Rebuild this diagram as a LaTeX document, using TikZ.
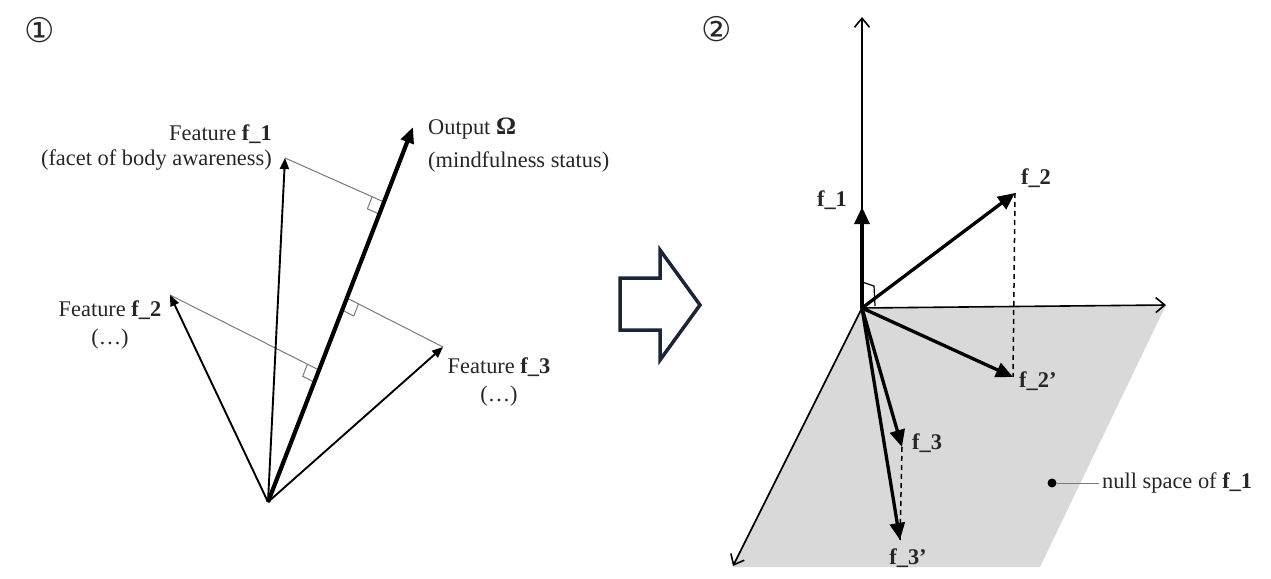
\documentclass[tikz,border=0pt]{standalone}
\usepackage{fontspec}
\setmainfont{Liberation Serif}
\newfontfamily\symfont{DejaVu Sans}
\usetikzlibrary{arrows.meta,calc}
\definecolor{navy}{HTML}{1C2536}
\definecolor{planegray}{HTML}{D9D9D9}
\definecolor{txt}{HTML}{262626}
\definecolor{perpgray}{HTML}{7A7A7A}
\begin{document}
\begin{tikzpicture}[x=1pt,y=-1pt,
  lbl/.style={font=\fontsize{22.4}{25}\selectfont, inner sep=0pt, text=txt},
  circnum/.style={font=\symfont\fontsize{34}{34}\selectfont, inner sep=0pt, text=txt},
  thinvec/.style={line width=1.9pt, -{Triangle[length=11pt,width=9pt]}},
  outvec/.style={line width=4.2pt, -{Triangle[length=16pt,width=13pt]}},
  perp/.style={line width=1pt, draw=perpgray},
  axis/.style={line width=1.6pt, -{Straight Barb[length=9pt,width=15pt]}},
  bigvec/.style={line width=3.3pt, -{Triangle[length=17pt,width=15pt]}},
  proj/.style={line width=1.5pt, dash pattern=on 5pt off 4pt},
]
\useasboundingbox (0,0) rectangle (1271,578);

% ---------- panel 1 ----------
\node[circnum] (n1) at (40,30) {①};

\coordinate (O) at (268,502);
\coordinate (T1) at (285,158);
\coordinate (T2) at (170,295);
\coordinate (T3) at (443,347);
\coordinate (TO) at (413,127);

\coordinate (F1) at ($(O)!0.80!(TO)$);
\coordinate (F2) at ($(O)!0.352!(TO)$);
\coordinate (F3) at ($(O)!0.544!(TO)$);

\draw[perp] (T1) -- (F1);
\draw[perp] (T2) -- (F2);
\draw[perp] (T3) -- (F3);
\foreach \f/\t in {F1/T1,F2/T2,F3/T3}{
  \coordinate (a) at ($(\f)!13pt!(\t)$);
  \coordinate (b) at ($(\f)!13pt!(O)$);
  \draw[perp] (a) -- ($(a)+(b)-(\f)$) -- (b);
}

\draw[thinvec] (O) -- (T1);
\draw[thinvec] (O) -- (T2);
\draw[thinvec] (O) -- (T3);
\draw[outvec] (O) -- (TO);

\node[lbl, anchor=east, align=right] (L1) at (272,148) {Feature \textbf{f\_1}\\(facet of body awareness)};
\node[lbl, anchor=west, align=left] (LO) at (428,145) {Output \textbf{\fontsize{25}{25}\selectfont Ω}\\[8pt](mindfulness status)};
\node[lbl, align=center] (L2) at (110,325) {Feature \textbf{f\_2}\\[3pt](…)};
\node[lbl, align=center] (L3) at (499,382) {Feature \textbf{f\_3}\\[3pt](…)};

% ---------- transition arrow ----------
\draw[line width=3.5pt, draw=navy, fill=white, line join=miter]
  (620,278) -- (660,278) -- (660,250) -- (700,305) -- (660,360) -- (660,330) -- (620,330) -- cycle;

% ---------- panel 2 ----------
\node[circnum] (n2) at (717,29) {②};

\coordinate (R) at (862,308);
\coordinate (Xe) at (1166,305);
\coordinate (Ye) at (733,566);
\coordinate (Ze) at (862,17);
\fill[planegray] (R) -- (1166,305) -- (1040,567) -- (733,567) -- cycle;

\draw[axis] (R) -- (Ze);
\draw[axis] (R) -- (Xe);
\draw[axis] (R) -- (Ye);

\coordinate (G1) at (862,207);
\coordinate (G2) at (1015,193);
\coordinate (G2p) at (1013,377);
\coordinate (G3) at (902,447);
\coordinate (G3p) at (900,540);

\draw[proj] (G2) -- (G2p);
\draw[proj] (G3) -- (G3p);

\draw[line width=1.2pt] (862,282) -- (874,286) -- (875,306);

\draw[bigvec] (R) -- (G1);
\draw[bigvec] (R) -- (G2);
\draw[bigvec] (R) -- (G2p);
\draw[bigvec] (R) -- (G3);
\draw[bigvec] (R) -- (G3p);

\node[lbl] (l1) at (832,200) {\textbf{f\_1}};
\node[lbl] (l2) at (1036,178) {\textbf{f\_2}};
\node[lbl, anchor=west] (l2p) at (1019,381) {\textbf{f\_2’}};
\node[lbl, anchor=west] (l3) at (912,443) {\textbf{f\_3}};
\node[lbl] (l3p) at (908,558) {\textbf{f\_3’}};

\node[circle, fill=black, inner sep=0pt, minimum size=9pt] (dot) at (1052,483) {};
\node[lbl, anchor=west] (ns) at (1102,483) {null space of \textbf{f\_1}};
\draw[perp] (dot) -- ([xshift=-3pt]ns.west);
\end{tikzpicture}
\end{document}
